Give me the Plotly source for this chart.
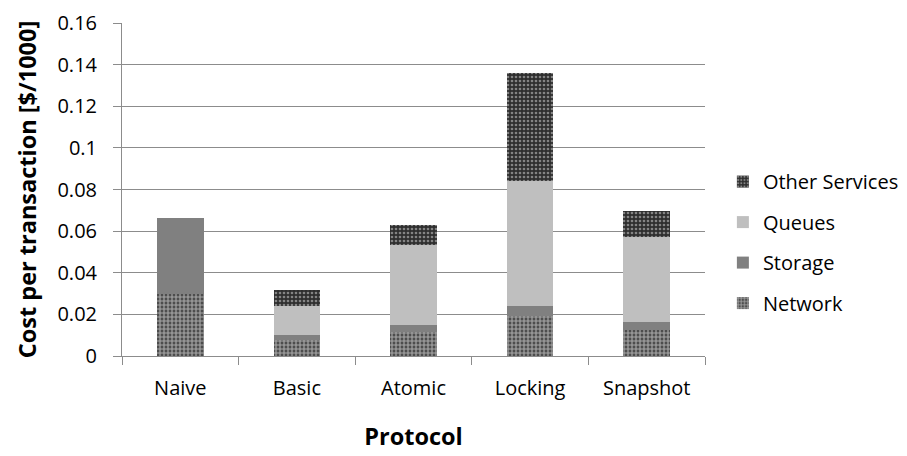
import plotly.graph_objects as go

protocols = ["Naive", "Basic", "Atomic", "Locking", "Snapshot"]

# cost components per transaction [$/1000], stacked bottom to top
network = [0.0300, 0.0077, 0.0117, 0.0190, 0.0125]
storage = [0.0362, 0.0024, 0.0032, 0.0052, 0.0037]
queues = [0.0, 0.0139, 0.0383, 0.0601, 0.0408]
other_services = [0.0, 0.0076, 0.0098, 0.0516, 0.0127]

y_ticks = [0, 0.02, 0.04, 0.06, 0.08, 0.1, 0.12, 0.14, 0.16]
y_tick_text = ["0", "0.02", "0.04", "0.06", "0.08", "0.1", "0.12", "0.14", "0.16"]

FONT = "'Open Sans', sans-serif"
GRID = "#8c8c8c"

fig = go.Figure()

fig.add_bar(
    name="Network", x=protocols, y=network, legendgroup="n", legendrank=4,
    marker=dict(color="#555555",
                pattern=dict(shape="+", fgcolor="#ffffff", bgcolor="#4d4d4d",
                             size=4, solidity=0.5, fillmode="overlay"),
                line=dict(width=0)),
)
fig.add_bar(
    name="Storage", x=protocols, y=storage, legendgroup="s", legendrank=3,
    marker=dict(color="#808080", line=dict(width=0)),
)
fig.add_bar(
    name="Queues", x=protocols, y=queues, legendgroup="q", legendrank=2,
    marker=dict(color="#bfbfbf", line=dict(width=0)),
)
fig.add_bar(
    name="Other Services", x=protocols, y=other_services, legendgroup="o", legendrank=1,
    marker=dict(color="#2e2e2e",
                pattern=dict(shape=".", fgcolor="#d9d9d9", bgcolor="#2e2e2e",
                             size=4, solidity=0.35, fillmode="overlay"),
                line=dict(width=0)),
)

fig.update_layout(
    width=907, height=456,
    margin=dict(l=122, r=202, t=23, b=100, autoexpand=False),
    paper_bgcolor="white", plot_bgcolor="white",
    barmode="stack", bargap=0.6,
    font=dict(family=FONT, size=20, color="#000000"),
    showlegend=True,
    legend=dict(
        x=0.797, xanchor="left", y=0.468, yanchor="middle",
        xref="container", yref="container",
        traceorder="grouped", tracegroupgap=11.5,
        font=dict(family=FONT, size=20, color="#000000"),
        itemwidth=30,
    ),
    xaxis=dict(
        showline=True, linecolor=GRID, linewidth=1,
        ticks="outside", tickson="boundaries", ticklen=8, tickcolor=GRID,
        showgrid=False,
        tickfont=dict(family=FONT, size=20),
        ticklabelstandoff=14,
        title=dict(text="<b>Protocol</b>", font=dict(family=FONT, size=23.5), standoff=28),
    ),
    yaxis=dict(
        range=[0, 0.16], tickvals=y_ticks, ticktext=y_tick_text,
        showline=True, linecolor=GRID, linewidth=1,
        ticks="outside", ticklen=8, tickcolor=GRID,
        showgrid=True, gridcolor=GRID, gridwidth=1,
        zeroline=False,
        tickfont=dict(family=FONT, size=20),
        ticklabelstandoff=12,
        title=dict(text="<b>Cost per transaction [$/1000]</b>",
                   font=dict(family=FONT, size=23.5), standoff=14),
    ),
)

fig.write_html("out.html")
